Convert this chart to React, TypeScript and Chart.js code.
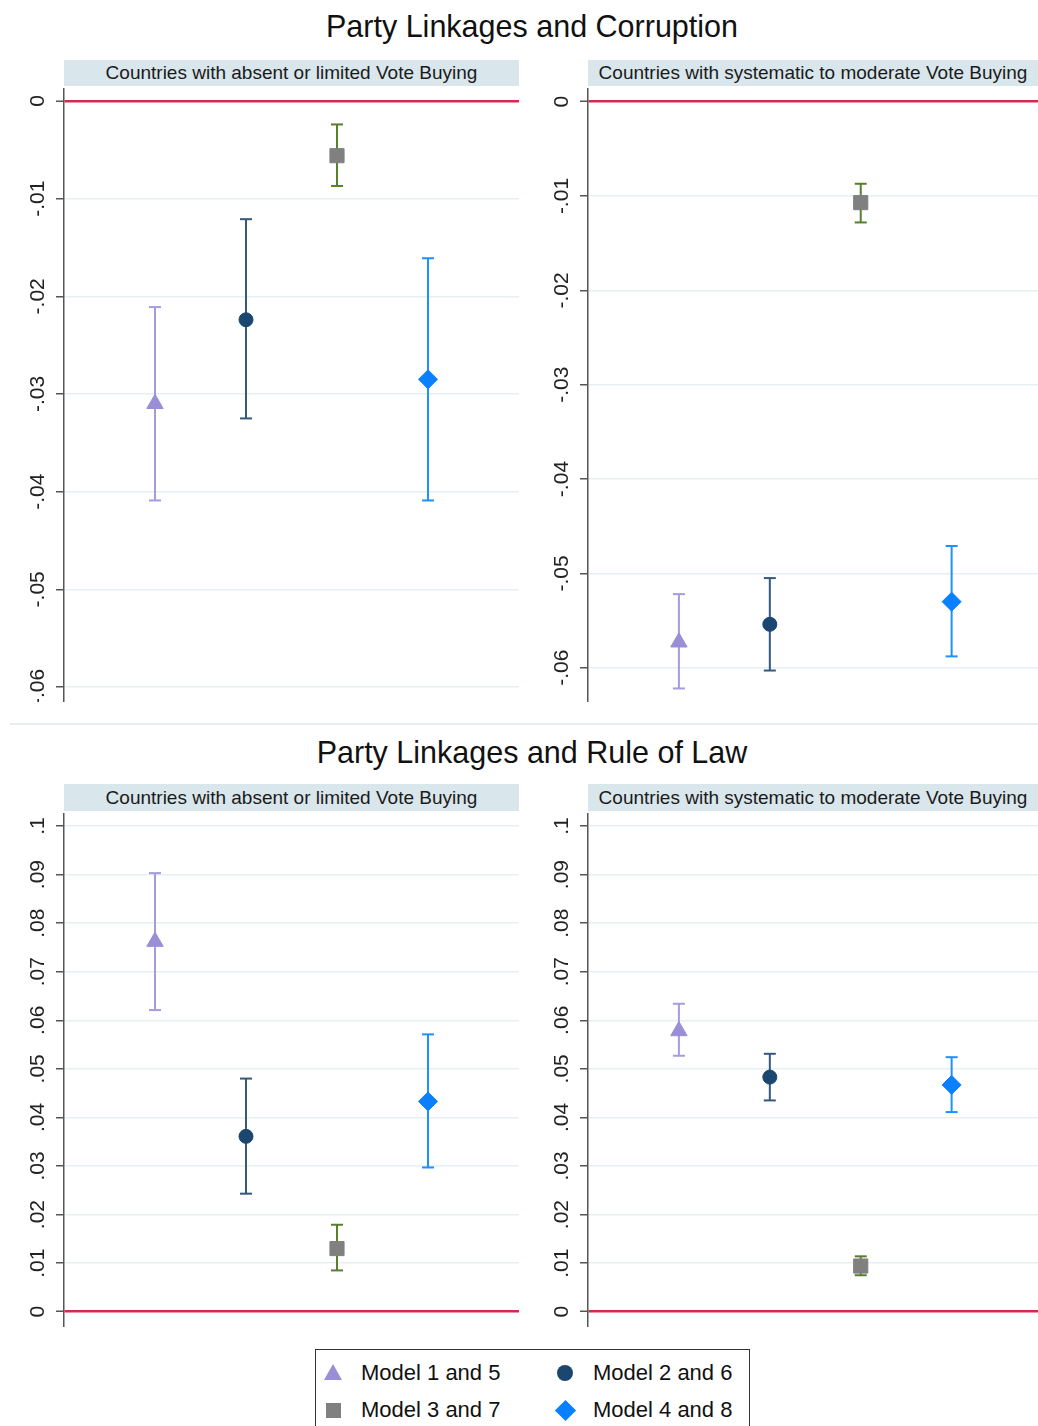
import React, { useEffect, useRef } from "react";
import { Chart, registerables } from "chart.js";
Chart.register(...registerables);

// ---------- data ----------
const models = ["Model 1 and 5", "Model 2 and 6", "Model 3 and 7", "Model 4 and 8"];
const xPositions = [1, 2, 3, 4];

const corrLimitedEst = [-0.031, -0.0224, -0.0056, -0.0285];
const corrLimitedLo = [-0.0409, -0.0325, -0.0087, -0.0409];
const corrLimitedHi = [-0.0211, -0.0121, -0.0024, -0.0161];

const corrSystEst = [-0.0573, -0.0554, -0.0107, -0.053];
const corrSystLo = [-0.0622, -0.0603, -0.0128, -0.0588];
const corrSystHi = [-0.0522, -0.0505, -0.0087, -0.0471];

const lawLimitedEst = [0.0762, 0.0361, 0.013, 0.0433];
const lawLimitedLo = [0.0621, 0.0243, 0.0085, 0.0297];
const lawLimitedHi = [0.0903, 0.048, 0.0179, 0.0571];

const lawSystEst = [0.0578, 0.0483, 0.0094, 0.0467];
const lawSystLo = [0.0527, 0.0435, 0.0075, 0.0411];
const lawSystHi = [0.0634, 0.0531, 0.0114, 0.0524];

const corrTickValues = [0, -0.01, -0.02, -0.03, -0.04, -0.05, -0.06];
const corrTickLabels = ["0", "-.01", "-.02", "-.03", "-.04", "-.05", "-.06"];
const lawTickValues = [0, 0.01, 0.02, 0.03, 0.04, 0.05, 0.06, 0.07, 0.08, 0.09, 0.1];
const lawTickLabels = ["0", ".01", ".02", ".03", ".04", ".05", ".06", ".07", ".08", ".09", ".1"];

const titleCorruption = "Party Linkages and Corruption";
const titleLaw = "Party Linkages and Rule of Law";
const stripLimited = "Countries with absent or limited Vote Buying";
const stripSyst = "Countries with systematic to moderate Vote Buying";

// ---------- styles ----------
const FONT = '"Liberation Sans", Arial, Helvetica, sans-serif';
const markerStyles = ["triangle", "circle", "rect", "rectRot"];
const markerRadius = [9.5, 7, 10, 9.5];
const markerColors = ["#9a8fd6", "#1a4670", "#808080", "#0a80ff"];
const ciColors = ["#a49ce0", "#33597f", "#55802c", "#1e90ff"];
const RED = "#d42a52";
const GRID = "#e6eff2";
const AXIS = "#555555";

type PanelProps = {
  left: number; top: number; width: number; height: number;
  axisWidth: number; padRight: number; xMax: number;
  yMin: number; yMax: number;
  tickValues: number[]; tickLabels: string[];
  est: number[]; lo: number[]; hi: number[];
};

function Panel(p: PanelProps) {
  const ref = useRef<HTMLCanvasElement>(null);
  useEffect(() => {
    const canvas = ref.current;
    if (!canvas) return;
    const datasets: any[] = [];
    models.forEach((m, i) => {
      datasets.push({
        type: "scatter",
        label: m,
        data: [{ x: xPositions[i], y: p.est[i] }],
        pointStyle: markerStyles[i],
        pointRadius: markerRadius[i],
        pointBackgroundColor: markerColors[i],
        pointBorderColor: markerColors[i],
        pointBorderWidth: 1,
        order: 0,
      });
    });
    models.forEach((m, i) => {
      datasets.push({
        type: "line",
        label: m + " CI",
        data: [
          { x: xPositions[i], y: p.lo[i] },
          { x: xPositions[i], y: p.hi[i] },
        ],
        showLine: true,
        borderColor: ciColors[i],
        borderWidth: 2,
        pointStyle: "line",
        pointRadius: 6,
        pointBorderColor: ciColors[i],
        pointBorderWidth: 2,
        fill: false,
        tension: 0,
        order: 1,
      });
    });
    const labelPlugin = {
      id: "rotLabels",
      afterDraw(chart: any) {
        const s = chart.scales.y;
        const ctx = chart.ctx;
        ctx.save();
        ctx.fillStyle = "#222";
        ctx.font = `21px ${FONT}`;
        ctx.textAlign = "center";
        ctx.textBaseline = "middle";
        p.tickValues.forEach((v, i) => {
          const y = s.getPixelForValue(v);
          ctx.save();
          ctx.translate(s.right - 26, y);
          ctx.rotate(-Math.PI / 2);
          ctx.fillText(p.tickLabels[i], 0, 0);
          ctx.restore();
        });
        ctx.restore();
      },
    };
    const chart = new Chart(canvas, {
      type: "scatter",
      data: { datasets },
      options: {
        responsive: false,
        animation: false,
        events: [],
        layout: { autoPadding: false, padding: { left: 0, right: p.padRight, top: 0, bottom: 0 } },
        plugins: { legend: { display: false }, tooltip: { enabled: false } },
        scales: {
          x: { type: "linear", min: 0, max: p.xMax, display: false },
          y: {
            type: "linear",
            min: p.yMin,
            max: p.yMax,
            afterFit: (s: any) => { s.width = p.axisWidth; },
            afterBuildTicks: (s: any) => { s.ticks = p.tickValues.map((v) => ({ value: v })); },
            ticks: { display: false },
            grid: {
              color: (c: any) => (c.tick && c.tick.value === 0 ? RED : GRID),
              lineWidth: (c: any) => (c.tick && c.tick.value === 0 ? 2.5 : 1.5),
              tickLength: 8,
              tickColor: AXIS,
              tickWidth: 1.5,
              drawTicks: true,
            },
            border: { display: true, color: AXIS, width: 1.5 },
          },
        },
      } as any,
      plugins: [labelPlugin],
    } as any);
    return () => chart.destroy();
  }, []);
  return (
    <canvas
      ref={ref}
      width={p.width}
      height={p.height}
      style={{ position: "absolute", left: p.left, top: p.top, width: p.width, height: p.height }}
    />
  );
}

function Strip({ left, top, width, height, text }: { left: number; top: number; width: number; height: number; text: string }) {
  return (
    <div
      style={{
        position: "absolute", left, top, width, height, background: "#d9e6ec",
        font: `19px ${FONT}`, color: "#1a1a1a", textAlign: "center", lineHeight: height + "px",
        whiteSpace: "nowrap",
      }}
    >
      {text}
    </div>
  );
}

function Title({ top, text }: { top: number; text: string }) {
  return (
    <div
      style={{
        position: "absolute", left: 532, top, transform: "translateX(-50%)",
        font: `30.5px ${FONT}`, color: "#111", lineHeight: "34px", whiteSpace: "nowrap",
      }}
    >
      {text}
    </div>
  );
}

function LegendMarker({ i, cx, cy }: { i: number; cx: number; cy: number }) {
  const c = markerColors[i];
  if (i === 0) {
    return (
      <div style={{ position: "absolute", left: cx - 9, top: cy - 9, width: 0, height: 0,
        borderLeft: "9px solid transparent", borderRight: "9px solid transparent", borderBottom: `16px solid ${c}` }} />
    );
  }
  if (i === 1) {
    return <div style={{ position: "absolute", left: cx - 8, top: cy - 8, width: 16, height: 16, borderRadius: "50%", background: c }} />;
  }
  if (i === 2) {
    return <div style={{ position: "absolute", left: cx - 7.5, top: cy - 7.5, width: 15, height: 15, background: c }} />;
  }
  return <div style={{ position: "absolute", left: cx - 7.5, top: cy - 7.5, width: 15, height: 15, background: c, transform: "rotate(45deg)" }} />;
}

export default function App() {
  const legendPos = [
    { mx: 333, tx: 361, y: 1373 },
    { mx: 565, tx: 593, y: 1373 },
    { mx: 333, tx: 361, y: 1410 },
    { mx: 565, tx: 593, y: 1410 },
  ];
  return (
    <div style={{ position: "absolute", left: 0, top: 0, width: 1038, height: 1426, overflow: "hidden", background: "#fff" }}>
      <Title top={9} text={titleCorruption} />
      <Strip left={64} top={60} width={455} height={26} text={stripLimited} />
      <Strip left={588} top={60} width={450} height={26} text={stripSyst} />
      <Panel left={0} top={88} width={520} height={614} axisWidth={64} padRight={1} xMax={5}
        yMin={-0.061536} yMax={0.001331} tickValues={corrTickValues} tickLabels={corrTickLabels}
        est={corrLimitedEst} lo={corrLimitedLo} hi={corrLimitedHi} />
      <Panel left={524} top={88} width={514} height={614} axisWidth={64} padRight={0} xMax={4.95}
        yMin={-0.063636} yMax={0.001452} tickValues={corrTickValues} tickLabels={corrTickLabels}
        est={corrSystEst} lo={corrSystLo} hi={corrSystHi} />

      <div style={{ position: "absolute", left: 10, top: 723, width: 1028, height: 2, background: "#e6eef1" }} />

      <Title top={735} text={titleLaw} />
      <Strip left={64} top={784} width={455} height={27} text={stripLimited} />
      <Strip left={588} top={784} width={450} height={27} text={stripSyst} />
      <Panel left={0} top={813} width={520} height={514} axisWidth={64} padRight={1} xMax={5}
        yMin={-0.00315} yMax={0.102677} tickValues={lawTickValues} tickLabels={lawTickLabels}
        est={lawLimitedEst} lo={lawLimitedLo} hi={lawLimitedHi} />
      <Panel left={524} top={813} width={514} height={514} axisWidth={64} padRight={0} xMax={4.95}
        yMin={-0.00315} yMax={0.102677} tickValues={lawTickValues} tickLabels={lawTickLabels}
        est={lawSystEst} lo={lawSystLo} hi={lawSystHi} />

      <div style={{ position: "absolute", left: 315, top: 1349, width: 435, height: 100, border: "1.5px solid #333", boxSizing: "border-box" }} />
      {models.map((m, i) => (
        <React.Fragment key={m}>
          <LegendMarker i={i} cx={legendPos[i].mx} cy={legendPos[i].y} />
          <div style={{ position: "absolute", left: legendPos[i].tx, top: legendPos[i].y - 13, font: `22px ${FONT}`, lineHeight: "26px", color: "#111", whiteSpace: "nowrap" }}>
            {m}
          </div>
        </React.Fragment>
      ))}
    </div>
  );
}
